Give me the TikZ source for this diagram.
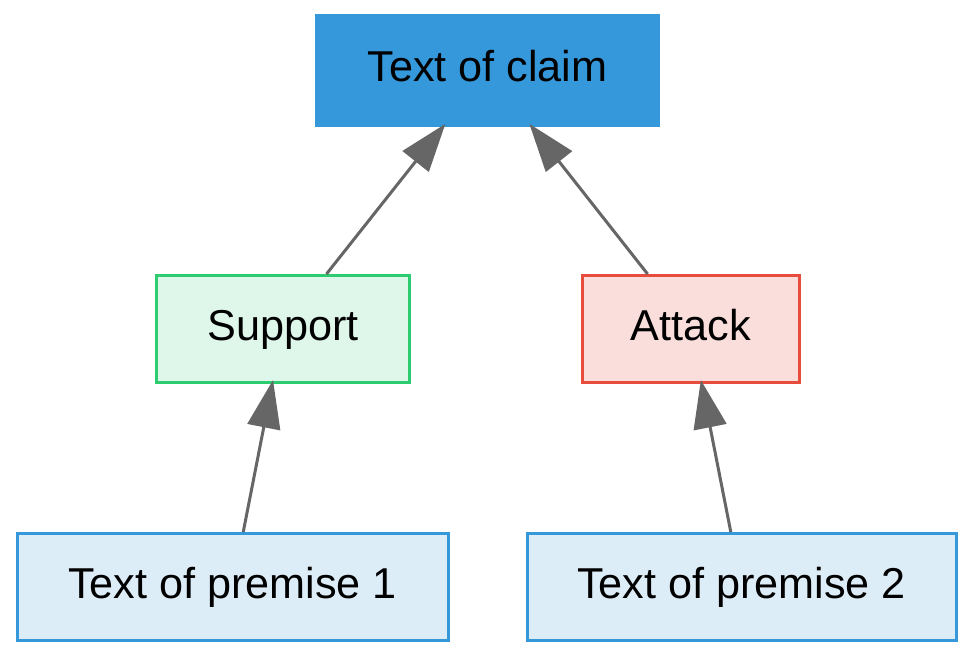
\documentclass[tikz,border=0pt]{standalone}
\usepackage{fontspec}
\setmainfont{Liberation Sans}
\usetikzlibrary{arrows.meta}
\definecolor{claimfill}{HTML}{3498DB}
\definecolor{supfill}{HTML}{DEF7EA}
\definecolor{supdraw}{HTML}{2ECC71}
\definecolor{attfill}{HTML}{FADEDC}
\definecolor{attdraw}{HTML}{E74C3C}
\definecolor{premfill}{HTML}{DDEDF8}
\definecolor{premdraw}{HTML}{3498DB}
\definecolor{edgegray}{HTML}{666666}
\tikzset{
  box/.style={rectangle, inner sep=0pt, line width=3pt, text=black,
    font=\fontsize{43.2}{52}\selectfont, text height=31pt, text depth=9pt,
    minimum height=107pt},
  claimbox/.style={box, fill=claimfill, draw=claimfill},
  supbox/.style={box, fill=supfill, draw=supdraw},
  attbox/.style={box, fill=attfill, draw=attdraw},
  prembox/.style={box, fill=premfill, draw=premdraw},
  link/.style={draw=edgegray, line width=3pt, shorten >=-4pt,
    -{Triangle[length=48pt, width=33pt, fill=edgegray]}}
}
\begin{document}
\begin{tikzpicture}[x=1pt, y=-1pt]
\useasboundingbox (0,0) rectangle (975,658);
\node[claimbox, minimum width=342pt, minimum height=110pt] (claim) at (487.5,70.5) {Text of claim};
\node[supbox, minimum width=253pt] (sup) at (283,329) {Support};
\node[attbox, minimum width=217.5pt] (att) at (690.8,329) {Attack};
\node[prembox, minimum width=431pt] (p1) at (232.5,587) {Text of premise 1};
\node[prembox, minimum width=429pt] (p2) at (741.6,587) {Text of premise 2};
\draw[link] (sup) -- (claim);
\draw[link] (att) -- (claim);
\draw[link] (p1) -- (sup);
\draw[link] (p2) -- (att);
\end{tikzpicture}
\end{document}
